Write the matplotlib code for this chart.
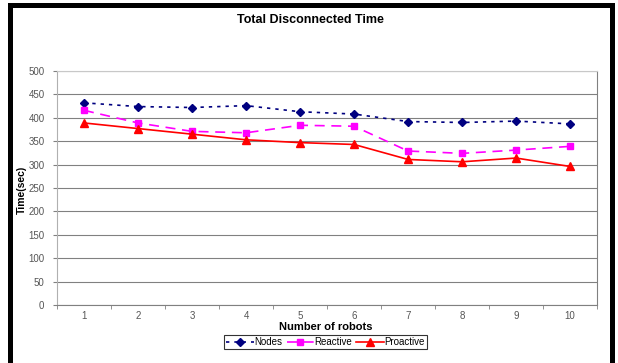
import matplotlib
matplotlib.use("Agg")
import matplotlib.pyplot as plt
import matplotlib.patches as patches
import numpy as np

plt.rcParams['font.family'] = ['Liberation Sans', 'DejaVu Sans']

robots = [1, 2, 3, 4, 5, 6, 7, 8, 9, 10]
nodes = [432, 424, 422, 426, 413, 408, 392, 390, 393, 387]
reactive = [416, 389, 371, 368, 384, 382, 329, 324, 331, 339]
proactive = [389, 377, 365, 353, 347, 343, 311, 306, 314, 296]
yticks = [0, 50, 100, 150, 200, 250, 300, 350, 400, 450, 500]

fig = plt.figure(figsize=(6.18, 3.63), dpi=100)
ax = fig.add_axes([0.0922, 0.1598, 0.874, 0.6446])

x = np.arange(1, len(robots) + 1)
ax.plot(x, nodes, color='#000080', linestyle=(0, (2, 3)), lw=1.2,
        marker='D', markersize=4, label='Nodes')
ax.plot(x, reactive, color='#FF00FF', linestyle=(0, (6, 4)), lw=1.2,
        marker='s', markersize=5, label='Reactive')
ax.plot(x, proactive, color='#FF0000', linestyle='-', lw=1.2,
        marker='^', markersize=6, label='Proactive')

ax.set_xlim(0.5, len(robots) + 0.5)
ax.set_ylim(0, 500)
ax.set_yticks(yticks)
ax.set_xticks(x)
ax.set_xticklabels([str(r) for r in robots])
ax.set_xticks(np.arange(0.5, len(robots) + 1, 1), minor=True)
ax.tick_params(axis='x', which='major', length=0, pad=4, labelsize=7, labelcolor='#555555')
ax.tick_params(axis='x', which='minor', length=3, color='#808080', direction='out')
ax.tick_params(axis='y', length=3, color='#808080', labelsize=7, labelcolor='#555555', pad=6)

ax.grid(axis='y', color='#808080', lw=0.8)
ax.set_axisbelow(True)
ax.spines['left'].set_color('#b0b0b0')
ax.spines['top'].set_color('#c8c8c8')
ax.spines['right'].set_color('#808080')
ax.spines['bottom'].set_color('#808080')

fig.text(0.502, 1 - 20 / 363, 'Total Disconnected Time', fontsize=9, fontweight='bold',
         ha='center', va='center')
ax.set_xlabel('Number of robots', fontsize=8, fontweight='bold')
ax.xaxis.set_label_coords(0.497, -0.094)
ax.xaxis.label.set_va('center')
ax.set_ylabel('Time(sec)', fontsize=7.5, fontweight='bold')
ax.yaxis.set_label_coords(-0.065, 0.49)
ax.yaxis.label.set_va('center')

leg = fig.legend(loc='center', bbox_to_anchor=(0.527, 0.058), ncol=3, fontsize=7,
                 frameon=True, fancybox=False, edgecolor='#000000',
                 handlelength=2.8, handletextpad=0.1, columnspacing=0.4,
                 borderpad=0.2, borderaxespad=0)
leg.get_frame().set_linewidth(0.8)

# black frame around the chart area
fig.patches.append(patches.Rectangle((9.5 / 618, -0.05), 602 / 618, 1.05 - 4.5 / 363,
                                     transform=fig.transFigure, fill=False,
                                     edgecolor='black', lw=3.6, clip_on=False))

fig.savefig('out.png', dpi=100)
